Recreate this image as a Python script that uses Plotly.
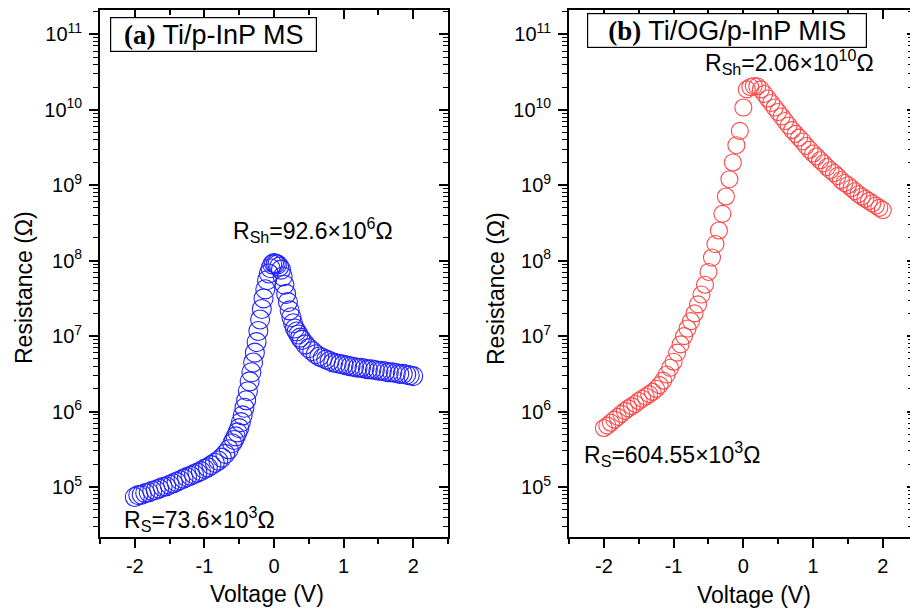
import plotly.graph_objects as go

# ---------------- data ----------------
voltage_a = [-2.00, -1.95, -1.90, -1.85, -1.80, -1.75, -1.70, -1.65, -1.60, -1.55,
             -1.50, -1.45, -1.40, -1.35, -1.30, -1.25, -1.20, -1.15, -1.10, -1.05,
             -1.00, -0.95, -0.90, -0.85, -0.80, -0.75, -0.70, -0.65, -0.60, -0.575,
             -0.55, -0.525, -0.50, -0.475, -0.45, -0.425, -0.40, -0.375, -0.35, -0.325,
             -0.30, -0.275, -0.25, -0.225, -0.20, -0.175, -0.15, -0.125, -0.10, -0.075,
             -0.05, -0.025, 0.00, 0.025, 0.05, 0.075, 0.10, 0.125, 0.15, 0.175,
             0.20, 0.225, 0.25, 0.275, 0.30, 0.325, 0.35, 0.375, 0.40, 0.45,
             0.50, 0.55, 0.60, 0.65, 0.70, 0.75, 0.80, 0.85, 0.90, 0.95,
             1.00, 1.05, 1.10, 1.15, 1.20, 1.25, 1.30, 1.35, 1.40, 1.45,
             1.50, 1.55, 1.60, 1.65, 1.70, 1.75, 1.80, 1.85, 1.90, 1.95, 2.00]
resistance_a = [7.36e4, 7.8e4, 7.9e4, 8.3e4, 8.5e4, 8.9e4, 9.1e4, 9.5e4, 1.00e5, 1.02e5,
                1.07e5, 1.12e5, 1.17e5, 1.23e5, 1.29e5, 1.35e5, 1.41e5, 1.48e5, 1.55e5, 1.62e5,
                1.74e5, 1.82e5, 1.95e5, 2.09e5, 2.24e5, 2.45e5, 2.75e5, 3.16e5, 3.80e5, 4.2e5,
                4.68e5, 5.3e5, 6.03e5, 7.24e5, 8.9e5, 1.12e6, 1.41e6, 1.86e6, 2.51e6, 3.31e6,
                4.47e6, 6.03e6, 8.32e6, 1.17e7, 1.66e7, 2.29e7, 3.16e7, 4.17e7, 5.50e7, 6.76e7,
                7.94e7, 8.91e7, 9.26e7, 9.1e7, 8.9e7, 8.32e7, 7.59e7, 6.17e7, 4.79e7, 3.63e7,
                2.82e7, 2.19e7, 1.78e7, 1.48e7, 1.26e7, 1.15e7, 1.05e7, 9.55e6, 8.9e6, 7.76e6,
                6.92e6, 6.31e6, 5.75e6, 5.37e6, 5.13e6, 4.90e6, 4.68e6, 4.47e6, 4.37e6, 4.27e6,
                4.17e6, 4.07e6, 3.98e6, 3.89e6, 3.80e6, 3.80e6, 3.72e6, 3.63e6, 3.63e6, 3.55e6,
                3.47e6, 3.47e6, 3.39e6, 3.31e6, 3.31e6, 3.24e6, 3.16e6, 3.16e6, 3.09e6, 3.02e6, 2.95e6]

voltage_b = [-2.00, -1.95, -1.90, -1.85, -1.80, -1.75, -1.70, -1.65, -1.60, -1.55,
             -1.50, -1.45, -1.40, -1.35, -1.30, -1.25, -1.20, -1.15, -1.10, -1.05,
             -1.00, -0.95, -0.90, -0.85, -0.80, -0.75, -0.70, -0.65, -0.60, -0.55,
             -0.50, -0.45, -0.40, -0.35, -0.30, -0.25, -0.20, -0.15, -0.10, -0.05,
             0.00, 0.05, 0.10, 0.15, 0.20, 0.25, 0.30, 0.35, 0.40, 0.45,
             0.50, 0.55, 0.60, 0.65, 0.70, 0.75, 0.80, 0.85, 0.90, 0.95,
             1.00, 1.05, 1.10, 1.15, 1.20, 1.25, 1.30, 1.35, 1.40, 1.45,
             1.50, 1.55, 1.60, 1.65, 1.70, 1.75, 1.80, 1.85, 1.90, 1.95, 2.00]
resistance_b = [6.05e5, 6.5e5, 7.1e5, 7.8e5, 8.5e5, 9.3e5, 1.02e6, 1.10e6, 1.18e6, 1.26e6,
                1.38e6, 1.48e6, 1.58e6, 1.70e6, 1.82e6, 2.00e6, 2.24e6, 2.57e6, 3.09e6, 3.80e6,
                4.57e6, 6.03e6, 7.76e6, 1.00e7, 1.26e7, 1.58e7, 2.00e7, 2.63e7, 3.55e7, 4.79e7,
                7.08e7, 1.10e8, 1.66e8, 2.51e8, 4.17e8, 7.08e8, 1.20e9, 2.00e9, 3.39e9, 5.25e9,
                1.07e10, 1.86e10, 2.00e10, 2.06e10, 2.04e10, 1.86e10, 1.62e10, 1.41e10, 1.23e10, 1.07e10,
                9.33e9, 8.13e9, 7.08e9, 6.17e9, 5.37e9, 4.79e9, 4.27e9, 3.80e9, 3.31e9, 2.95e9,
                2.63e9, 2.40e9, 2.14e9, 1.95e9, 1.74e9, 1.58e9, 1.45e9, 1.32e9, 1.17e9, 1.07e9,
                1.00e9, 9.12e8, 8.32e8, 7.59e8, 7.08e8, 6.61e8, 6.17e8, 5.75e8, 5.37e8, 5.01e8, 4.68e8]

y_major_vals = [1e5, 1e6, 1e7, 1e8, 1e9, 1e10, 1e11]
y_major_text = ["10<sup>5</sup>", "10<sup>6</sup>", "10<sup>7</sup>", "10<sup>8</sup>",
                "10<sup>9</sup>", "10<sup>10</sup>", "10<sup>11</sup>"]
y_minor_vals = [m * 10 ** e for e in range(4, 12) for m in range(2, 10)]
x_tick_vals = [-2, -1, 0, 1, 2]
x_tick_text = ["-2", "-1", "0", "1", "2"]

# ---------------- geometry ----------------
W, H = 910, 614
def px(x): return x / W
def py(y): return 1 - y / H

FONT = "Liberation Sans, Arial, sans-serif"
BLUE = "rgb(35,35,255)"
RED = "rgb(255,70,70)"

y_range = [4.337, 11.322]
ya_dom = [py(537), py(10)]
xa_dom = [px(100), px(448)]
xb_dom = [px(569), 1.0]
xb_range = [-2.5, 2.39]

fig = go.Figure()
fig.add_trace(go.Scatter(x=voltage_a, y=resistance_a, mode="markers", xaxis="x", yaxis="y",
                         marker=dict(symbol="circle-open", size=19, color=BLUE, line=dict(width=1.1)),
                         showlegend=False))
fig.add_trace(go.Scatter(x=voltage_b, y=resistance_b, mode="markers", xaxis="x2", yaxis="y2",
                         marker=dict(symbol="circle-open", size=17, color=RED, line=dict(width=1.1)),
                         showlegend=False))
# dummy traces for mirror axes
for xa, ya in [("x3", "y3"), ("x4", "y4")]:
    fig.add_trace(go.Scatter(x=[None], y=[None], xaxis=xa, yaxis=ya, showlegend=False, hoverinfo="skip"))

tickfont = dict(family=FONT, size=20, color="black")

def xaxis_main(domain, rng, anchor):
    return dict(domain=domain, range=rng, anchor=anchor, showgrid=False, zeroline=False,
                tickmode="array", tickvals=x_tick_vals, ticktext=x_tick_text,
                ticks="outside", ticklen=9, tickwidth=1.5, tickcolor="black",
                minor=dict(dtick=0.5, tick0=0, ticks="outside", ticklen=5, tickwidth=1.5, tickcolor="black"),
                showline=True, linewidth=1.8, linecolor="black", tickfont=tickfont,
                ticklabelstandoff=1)

def xaxis_top(over, rng, anchor):
    return dict(overlaying=over, side="top", range=rng, anchor=anchor, showgrid=False, zeroline=False,
                tickmode="array", tickvals=x_tick_vals, showticklabels=False,
                ticks="inside", ticklen=9, tickwidth=1.5, tickcolor="black",
                minor=dict(dtick=0.5, tick0=0, ticks="inside", ticklen=5, tickwidth=1.5, tickcolor="black"),
                showline=True, linewidth=1.8, linecolor="black")

def yaxis_main(anchor):
    return dict(domain=ya_dom, type="log", range=y_range, anchor=anchor, showgrid=False, zeroline=False,
                tickmode="array", tickvals=y_major_vals, ticktext=y_major_text,
                ticks="outside", ticklen=9, tickwidth=1.5, tickcolor="black",
                minor=dict(tickmode="array", tickvals=y_minor_vals, ticks="outside", ticklen=5,
                           tickwidth=1.3, tickcolor="black"),
                showline=True, linewidth=1.8, linecolor="black", tickfont=tickfont,
                ticklabelstandoff=3)

def yaxis_right(over, anchor, showline=True, ticklen=9, mticklen=5):
    return dict(overlaying=over, side="right", type="log", range=y_range, anchor=anchor,
                showgrid=False, zeroline=False, tickmode="array", tickvals=y_major_vals,
                showticklabels=False, ticks="inside", ticklen=ticklen, tickwidth=1.5, tickcolor="black",
                minor=dict(tickmode="array", tickvals=y_minor_vals, ticks="inside", ticklen=mticklen,
                           tickwidth=1.3, tickcolor="black"),
                showline=showline, linewidth=1.8, linecolor="black")

fig.update_layout(
    width=W, height=H, margin=dict(l=0, r=0, t=0, b=0),
    paper_bgcolor="white", plot_bgcolor="white",
    xaxis=xaxis_main(xa_dom, [-2.5, 2.5], "y"),
    yaxis=yaxis_main("x"),
    xaxis2=xaxis_main(xb_dom, xb_range, "y2"),
    yaxis2=yaxis_main("x2"),
    xaxis3=xaxis_top("x", [-2.5, 2.5], "y"),
    yaxis3=yaxis_right("y", "x"),
    xaxis4=xaxis_top("x2", xb_range, "y2"),
    yaxis4=yaxis_right("y2", "x2", showline=False, ticklen=3, mticklen=2),
)

ann_font = dict(family=FONT, size=23, color="black")
title_font = dict(family=FONT, size=23, color="black")
annotations = [
    # axis titles
    dict(x=px(267), y=py(594), text="Voltage (V)", font=title_font),
    dict(x=px(754), y=py(595), text="Voltage (V)", font=title_font),
    dict(x=px(24), y=py(288), text="Resistance (Ω)", textangle=-90, font=title_font),
    dict(x=px(496), y=py(288), text="Resistance (Ω)", textangle=-90, font=title_font),
    # value labels
    dict(x=px(313), y=py(230), text="R<sub>Sh</sub>=92.6×10<sup>6</sup>Ω", font=ann_font),
    dict(x=px(122), y=py(519), xanchor="left", text="R<sub>S</sub>=73.6×10<sup>3</sup>Ω", font=ann_font),
    dict(x=px(703), y=py(62), xanchor="left", text="R<sub>Sh</sub>=2.06×10<sup>10</sup>Ω", font=ann_font),
    dict(x=px(582), y=py(454), xanchor="left", text="R<sub>S</sub>=604.55×10<sup>3</sup>Ω", font=ann_font),
    # panel title boxes
    dict(x=px(110), y=py(17), xanchor="left", yanchor="top",
         text='<span style="font-family:Liberation Serif, Times New Roman, serif"><b>(a)</b></span> Ti/p-InP MS',
         font=dict(family=FONT, size=27, color="black"),
         bordercolor="black", borderwidth=1.2, borderpad=0, bgcolor="white",
         width=205, height=33, align="center", valign="middle"),
    dict(x=px(587), y=py(13), xanchor="left", yanchor="top",
         text='<span style="font-family:Liberation Serif, Times New Roman, serif"><b>(b)</b></span> Ti/OG/p-InP MIS',
         font=dict(family=FONT, size=27, color="black"),
         bordercolor="black", borderwidth=1.2, borderpad=0, bgcolor="white",
         width=278, height=33, align="center", valign="middle"),
]
for a in annotations:
    a.setdefault("xref", "paper")
    a.setdefault("yref", "paper")
    a.setdefault("showarrow", False)
    a.setdefault("xanchor", "center")
    a.setdefault("yanchor", "middle")
fig.update_layout(annotations=annotations)

fig.write_html("out.html")
